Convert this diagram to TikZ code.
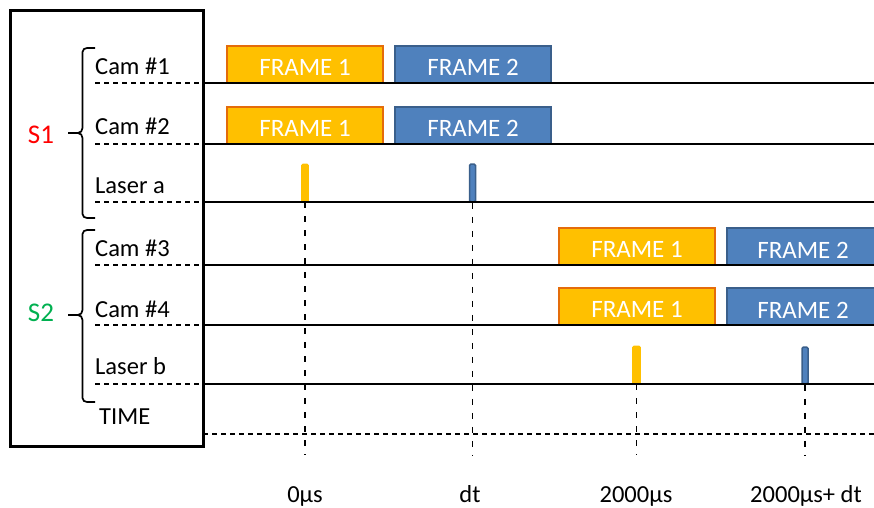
\documentclass[tikz,border=0pt]{standalone}
\usepackage{fontspec}
\setmainfont{Carlito}
\definecolor{f1fill}{HTML}{FFC000}
\definecolor{f1draw}{HTML}{E46C0A}
\definecolor{f2fill}{HTML}{4F81BD}
\definecolor{f2draw}{HTML}{3A5F8B}
\definecolor{sred}{HTML}{FF0000}
\definecolor{sgreen}{HTML}{00B050}
\tikzset{
  lbl/.style={anchor=base west,inner sep=0pt,font=\fontsize{24.5}{28}\selectfont},
  tlbl/.style={anchor=base,inner sep=0pt,font=\fontsize{24.5}{28}\selectfont},
  grp/.style={inner sep=0pt,font=\fontsize{27}{30}\selectfont},
  frameone/.style={draw=f1draw,fill=f1fill,line width=2.4pt},
  frametwo/.style={draw=f2draw,fill=f2fill,line width=2.4pt},
  frametext/.style={text=white,font=\fontsize{25}{28}\selectfont,inner sep=0pt},
  pulseone/.style={fill=f1fill,draw=f1fill,line width=0.8pt,rounded corners=1.5pt},
  pulsetwo/.style={fill=f2fill,draw=f2draw,line width=1.5pt,rounded corners=1.5pt},
  tline/.style={line width=1.9pt},
  dline/.style={line width=1.6pt,dash pattern=on 5pt off 4pt},
  vdash/.style={line width=1.2pt,dash pattern=on 6pt off 8pt},
  bracepath/.style={line width=1.7pt},
}
\begin{document}
\begin{tikzpicture}[x=1pt,y=-1pt]
\useasboundingbox (0,0) rectangle (874,507);
\clip (0,0) rectangle (874,507);

% outer box
\draw[line width=3pt] (10,10) rectangle (203,446);

% frames
\newcommand{\frm}[6]{\node[#1,minimum width=#4-#3,minimum height=#6-#5,inner sep=0pt] (#2) at ({(#3+#4)/2},{(#5+#6)/2}) {};}
\frm{frameone}{c1fa}{227}{383}{46}{83}
\frm{frametwo}{c1fb}{395}{551}{46}{83}
\frm{frameone}{c2fa}{227}{383}{107}{144}
\frm{frametwo}{c2fb}{395}{551}{107}{144}
\frm{frameone}{c3fa}{559}{715}{228}{265}
\frm{frametwo}{c3fb}{727}{883}{228}{265}
\frm{frameone}{c4fa}{559}{715}{288}{325}
\frm{frametwo}{c4fb}{727}{883}{288}{325}
\foreach \n/\t in {c1fa/FRAME 1,c1fb/FRAME 2,c2fa/FRAME 1,c2fb/FRAME 2,c3fa/FRAME 1,c4fa/FRAME 1}
  \node[frametext] (\n t) at ([yshift=-3pt]\n.center) {\t};
\node[frametext] (c3fbt) at (803,250) {FRAME 2};
\node[frametext] (c4fbt) at (803,310) {FRAME 2};

% laser pulses
\node[pulseone,minimum width=7pt,minimum height=38pt,inner sep=0pt] (pa1) at (305,183) {};
\node[pulsetwo,minimum width=6pt,minimum height=38pt,inner sep=0pt] (pa2) at (472.5,183) {};
\node[pulseone,minimum width=8pt,minimum height=38pt,inner sep=0pt] (pb1) at (636.5,365) {};
\node[pulsetwo,minimum width=6pt,minimum height=37pt,inner sep=0pt] (pb2) at (805,365.5) {};

% timelines
\foreach \nm/\y in {c1/83,c2/144,la/202,c3/265,c4/325,lb/384}{
  \coordinate (\nm s) at (95,\y);
  \coordinate (\nm m) at (203,\y);
  \coordinate (\nm e) at (874,\y);
  \draw[dline] (\nm s) -- (\nm m);
  \draw[tline] (\nm m) -- (\nm e);
}
\coordinate (ts) at (203,434);
\coordinate (te) at (874,434);
\draw[dline] (ts) -- (te);

% labels
\node[lbl] (lc1) at (95,74) {Cam \#1};
\node[lbl] (lc2) at (95,134) {Cam \#2};
\node[lbl] (lla) at (95,193) {Laser a};
\node[lbl] (lc3) at (95,256) {Cam \#3};
\node[lbl] (lc4) at (95,317) {Cam \#4};
\node[lbl] (llb) at (95,374) {Laser b};
\node[lbl] (ltime) at (99,424) {TIME};

% group labels
\node[grp,text=sred] (s1) at (41,135) {S1};
\node[grp,text=sgreen] (s2) at (41,313) {S2};

% braces
\draw[bracepath] (95,48) -- (87,48) to[out=180,in=90] (82.5,52) -- (82.5,128)
  to[out=-90,in=0] (78,133) -- (68,133);
\draw[bracepath] (78,133) to[out=0,in=90] (82.5,138) -- (82.5,214)
  to[out=-90,in=180] (87,218) -- (95,218);
\draw[bracepath] (95,230) -- (87,230) to[out=180,in=90] (82.5,234) -- (82.5,310)
  to[out=-90,in=0] (78,315) -- (68,315);
\draw[bracepath] (78,315) to[out=0,in=90] (82.5,320) -- (82.5,398)
  to[out=-90,in=180] (87,402) -- (95,402);

% vertical dashed time markers
\coordinate (v1e) at (305,455);
\coordinate (v2e) at (472.5,455);
\coordinate (v3e) at (636.5,455);
\coordinate (v4e) at (805,455);
\draw[vdash] (pa1.south) -- (v1e);
\draw[vdash] (pa2.south) -- (v2e);
\draw[vdash] (pb1.south) -- (v3e);
\draw[vdash] (pb2.south) -- (v4e);

% time labels
\node[tlbl] (t0) at (305,502) {0µs};
\node[tlbl] (t1) at (470,502) {dt};
\node[tlbl] (t2) at (636,502) {2000µs};
\node[tlbl] (t3) at (806,502) {2000µs+ dt};
\end{tikzpicture}
\end{document}
